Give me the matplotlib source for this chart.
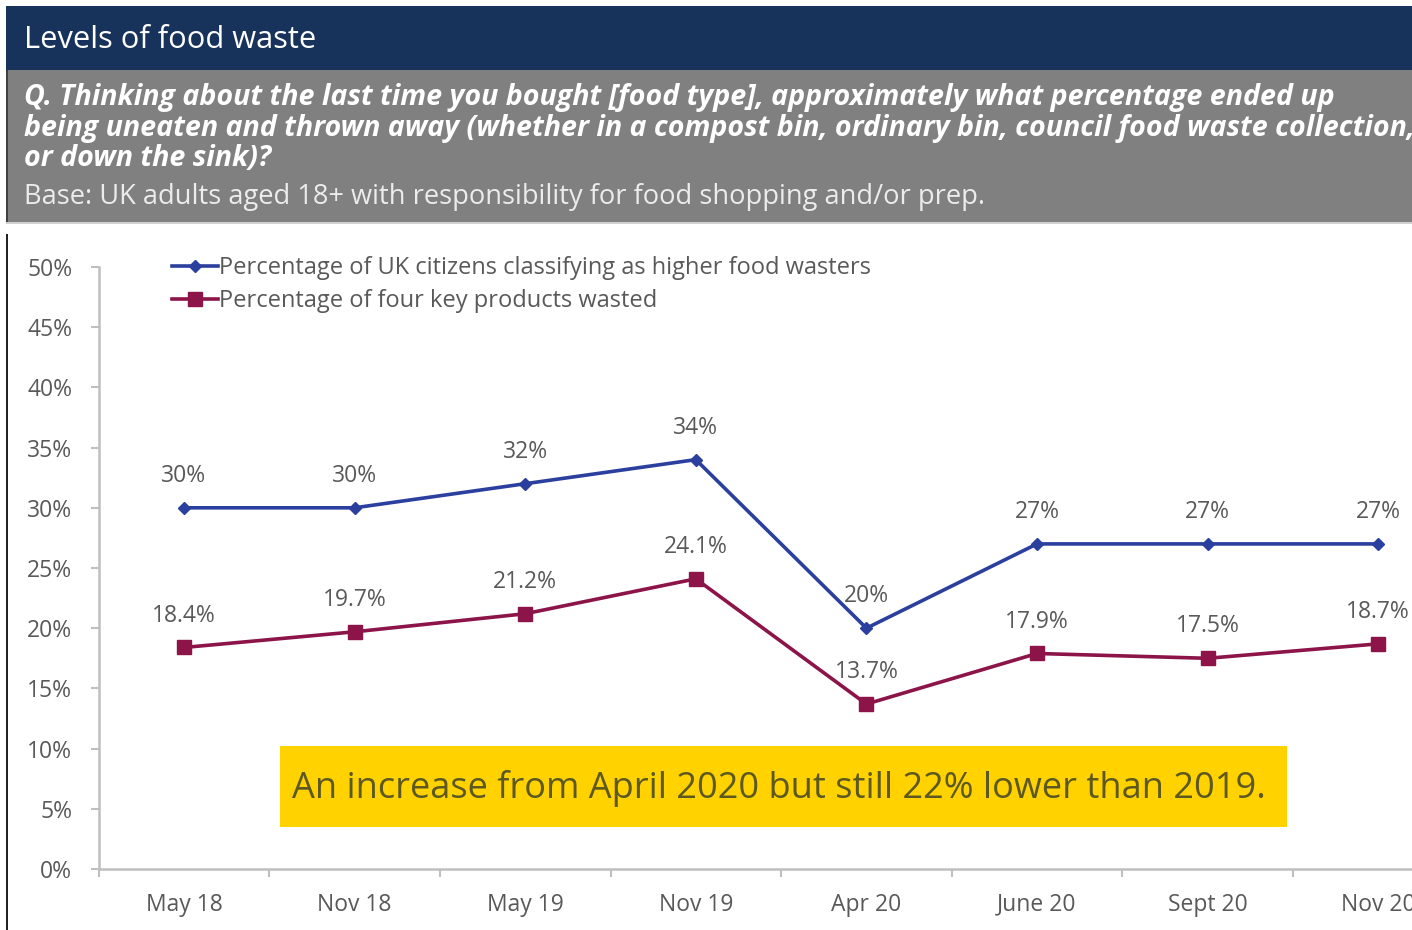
import matplotlib
matplotlib.use("Agg")
import matplotlib.pyplot as plt
from matplotlib.patches import Rectangle
from matplotlib.lines import Line2D
from matplotlib.ticker import FixedLocator, PercentFormatter

plt.rcParams['font.family'] = ['Open Sans', 'DejaVu Sans']

categories = ["May 18", "Nov 18", "May 19", "Nov 19", "Apr 20", "June 20", "Sept 20", "Nov 20"]
higher_wasters = [30, 30, 32, 34, 20, 27, 27, 27]
higher_wasters_labels = ["30%", "30%", "32%", "34%", "20%", "27%", "27%", "27%"]
products_wasted = [18.4, 19.7, 21.2, 24.1, 13.7, 17.9, 17.5, 18.7]
products_wasted_labels = ["18.4%", "19.7%", "21.2%", "24.1%", "13.7%", "17.9%", "17.5%", "18.7%"]
y_ticks = [0, 5, 10, 15, 20, 25, 30, 35, 40, 45, 50]

W, H = 1412, 930
fig = plt.figure(figsize=(W / 100, H / 100), dpi=100)


def fx(px):
    return px / W


def fy(py):
    return 1 - py / H


def frect(x0, y0, x1, y1, **kw):
    fig.patches.append(Rectangle((fx(x0), fy(y1)), fx(x1) - fx(x0), fy(y0) - fy(y1),
                                 transform=fig.transFigure, figure=fig, **kw))


# header bands
frect(6, 6, W + 2, 70, facecolor="#17335c", edgecolor="none")
frect(6, 70, W + 2, 222, facecolor="#808080", edgecolor="none")
frect(6, 222, W + 2, 224, facecolor="#d0d0d0", edgecolor="none")
frect(6, 70, 8, 222, facecolor="#404040", edgecolor="none")
frect(6, 234, 8, H, facecolor="#222222", edgecolor="none")

fig.text(fx(24), fy(40), "Levels of food waste", color="white", fontsize=22.2,
         ha="left", va="center")
question = ["Q. Thinking about the last time you bought [food type], approximately what percentage ended up",
            "being uneaten and thrown away (whether in a compost bin, ordinary bin, council food waste collection,",
            "or down the sink)?"]
for i, line in enumerate(question):
    fig.text(fx(24), fy(97 + 31 * i), line, color="white", fontsize=20.6,
             fontweight="bold", fontstyle="italic", ha="left", va="center")
fig.text(fx(24), fy(197), "Base: UK adults aged 18+ with responsibility for food shopping and/or prep.",
         color="#ececec", fontsize=19.6, ha="left", va="center")

# chart area
x0_px, x_step = 184, 170.6
ax_left = x0_px - 0.5 * x_step
ax_right = x0_px + 7.5 * x_step
ax = fig.add_axes([fx(ax_left), fy(869), fx(ax_right) - fx(ax_left), fy(267) - fy(869)])
ax.set_xlim(-0.5, 7.5)
ax.set_ylim(0, 50)
ax.set_facecolor("none")

xs = list(range(len(categories)))
blue = "#2b3f9e"
maroon = "#8c1448"
grey_txt = "#595959"
label_size = 16.5

ax.plot(xs, products_wasted, color=maroon, lw=2.6, marker="s", ms=10.5, zorder=3, clip_on=False)
ax.plot(xs, higher_wasters, color=blue, lw=2.6, marker="D", ms=6, zorder=4, clip_on=False)

for x, v, t in zip(xs, higher_wasters, higher_wasters_labels):
    ax.annotate(t, (x, v), xytext=(0, 23), textcoords="offset points", ha="center",
                va="center", color=grey_txt, fontsize=label_size)
for x, v, t in zip(xs, products_wasted, products_wasted_labels):
    ax.annotate(t, (x, v), xytext=(0, 23), textcoords="offset points", ha="center",
                va="center", color=grey_txt, fontsize=label_size)

for s in ["top", "right"]:
    ax.spines[s].set_visible(False)
for s in ["left", "bottom"]:
    ax.spines[s].set_color("#bfbfbf")
    ax.spines[s].set_linewidth(1.8)

ax.yaxis.set_major_locator(FixedLocator(y_ticks))
ax.yaxis.set_major_formatter(PercentFormatter(decimals=0))
ax.tick_params(axis="y", length=6, width=1.5, color="#bfbfbf", labelcolor=grey_txt,
               labelsize=label_size, pad=13)
ax.set_xticks(xs)
ax.set_xticklabels(categories)
ax.set_xticks([i + 0.5 for i in range(-1, 8)], minor=True)
ax.tick_params(axis="x", which="major", length=0, labelcolor=grey_txt, labelsize=label_size, pad=17)
ax.tick_params(axis="x", which="minor", length=6, width=1.5, color="#bfbfbf")

leg_handles = [Line2D([], [], color=blue, lw=2.6, marker="D", ms=6),
               Line2D([], [], color=maroon, lw=2.6, marker="s", ms=10.5)]
fig.legend(leg_handles,
           ["Percentage of UK citizens classifying as higher food wasters",
            "Percentage of four key products wasted"],
           loc="upper left", bbox_to_anchor=(fx(172), fy(256)), frameon=False,
           fontsize=17, labelcolor=grey_txt, handlelength=1.95, handletextpad=0.05,
           labelspacing=0.4, borderaxespad=0, borderpad=0)

# highlight box
frect(280, 746, 1287, 827, facecolor="#ffd200", edgecolor="none", zorder=5)
fig.text(fx(292), fy(788), "An increase from April 2020 but still 22% lower than 2019.",
         color="#5c5820", fontsize=26, ha="left", va="center", zorder=6)

fig.savefig("out.png", dpi=100, facecolor="white")
